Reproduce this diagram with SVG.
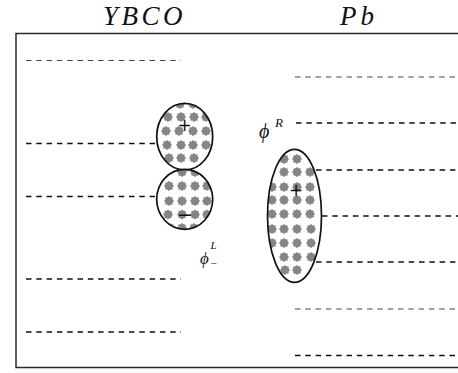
<svg xmlns="http://www.w3.org/2000/svg" xmlns:xlink="http://www.w3.org/1999/xlink" width="458" height="373" viewBox="0 0 458 373">
  <style>
    .frame { fill: none; stroke: #2a2a2a; stroke-width: 1.5; }
    .dash { fill: none; stroke: #111; stroke-width: 1.6; stroke-dasharray: 5.5 4.8; }
    .dash-light { fill: none; stroke: #444; stroke-width: 1.1; stroke-dasharray: 5.5 4.8; }
    .blob { fill: none; stroke: #111; stroke-width: 1.7; }
    .dot { fill: #858585; }
    .sign { fill: #111; text-anchor: middle; }
  </style>
  <defs>
    <!-- gray star-shaped pinning dot -->
    <polygon id="star" class="dot" points="5,0 3.7,1.5 3.6,3.6 1.5,3.7 0,5 -1.5,3.7 -3.6,3.6 -3.7,1.5 -5,0 -3.7,-1.5 -3.6,-3.6 -1.5,-3.7 0,-5 1.5,-3.7 3.6,-3.6 3.7,-1.5"/>
    <clipPath id="clipTop"><ellipse cx="184.7" cy="136.7" rx="28" ry="33.3"/></clipPath>
    <clipPath id="clipBottom"><ellipse cx="184.7" cy="199.3" rx="28" ry="30"/></clipPath>
    <clipPath id="clipRight"><ellipse cx="294.5" cy="215.8" rx="27" ry="66.5"/></clipPath>
  </defs>

  <!-- column headings -->
  <g font-family="Liberation Serif, serif" font-style="italic" fill="#111">
    <text x="103" y="25" font-size="27" letter-spacing="3.5">YBCO</text>
    <text x="340" y="25" font-size="27" letter-spacing="4">Pb</text>
  </g>

  <!-- frame: top, left, bottom -->
  <path class="frame" d="M458,33.5 H16 V367.5 H458"/>

  <g id="connectors">
    <!-- left side levels -->
    <line class="dash-light" x1="26" y1="60.5" x2="181" y2="60.5"/>
    <line class="dash" x1="26" y1="143.5" x2="157" y2="143.5"/>
    <line class="dash" x1="26" y1="196.5" x2="157" y2="196.5"/>
    <line class="dash" x1="26" y1="279" x2="181" y2="279"/>
    <line class="dash" x1="26" y1="332" x2="181" y2="332"/>
    <!-- right side levels -->
    <line class="dash-light" x1="295" y1="77" x2="458" y2="77"/>
    <line class="dash" x1="296" y1="123" x2="458" y2="123"/>
    <line class="dash" x1="316" y1="170" x2="458" y2="170"/>
    <line class="dash" x1="322" y1="216" x2="458" y2="216"/>
    <line class="dash" x1="316" y1="262" x2="458" y2="262"/>
    <line class="dash-light" x1="295" y1="309" x2="458" y2="309"/>
    <line class="dash" x1="295" y1="355.5" x2="458" y2="355.5"/>
  </g>

  <g id="vortex-top">
    <g clip-path="url(#clipTop)">
      <use xlink:href="#star" x="180" y="104"/><use xlink:href="#star" x="193" y="104"/>
      <use xlink:href="#star" x="168" y="117"/><use xlink:href="#star" x="181" y="117"/><use xlink:href="#star" x="194" y="117"/><use xlink:href="#star" x="206" y="117"/>
      <use xlink:href="#star" x="166" y="131"/><use xlink:href="#star" x="179" y="131"/><use xlink:href="#star" x="193" y="131"/><use xlink:href="#star" x="206" y="131"/>
      <use xlink:href="#star" x="167" y="145"/><use xlink:href="#star" x="181" y="145"/><use xlink:href="#star" x="193" y="145"/><use xlink:href="#star" x="206" y="145"/>
      <use xlink:href="#star" x="169" y="158"/><use xlink:href="#star" x="181" y="158"/><use xlink:href="#star" x="194" y="158"/>
    </g>
    <ellipse class="blob" cx="184.7" cy="136.7" rx="28" ry="33.3"/>
    <text class="sign" x="184.7" y="131" font-size="17" font-family="DejaVu Sans, sans-serif">+</text>
  </g>

  <g id="vortex-bottom">
    <g clip-path="url(#clipBottom)">
      <use xlink:href="#star" x="182" y="172"/><use xlink:href="#star" x="195" y="172"/>
      <use xlink:href="#star" x="169" y="186"/><use xlink:href="#star" x="182" y="186"/><use xlink:href="#star" x="195" y="186"/><use xlink:href="#star" x="207" y="186"/>
      <use xlink:href="#star" x="169" y="201"/><use xlink:href="#star" x="182" y="201"/><use xlink:href="#star" x="195" y="201"/><use xlink:href="#star" x="207" y="201"/>
      <use xlink:href="#star" x="168" y="214.5"/><use xlink:href="#star" x="182" y="214.5"/><use xlink:href="#star" x="195" y="214.5"/><use xlink:href="#star" x="207" y="214.5"/>
      <use xlink:href="#star" x="170" y="228"/><use xlink:href="#star" x="182" y="228"/><use xlink:href="#star" x="194" y="228"/>
    </g>
    <ellipse class="blob" cx="184.7" cy="199.3" rx="28" ry="30"/>
    <text class="sign" x="185" y="221" font-size="19" font-family="DejaVu Sans, sans-serif">−</text>
  </g>

  <g id="vortex-right">
    <g clip-path="url(#clipRight)">
      <use xlink:href="#star" x="284" y="159"/><use xlink:href="#star" x="297" y="159"/>
      <use xlink:href="#star" x="284" y="172"/><use xlink:href="#star" x="297" y="172"/><use xlink:href="#star" x="310" y="172"/>
      <use xlink:href="#star" x="272" y="187"/><use xlink:href="#star" x="284" y="187"/><use xlink:href="#star" x="297" y="187"/><use xlink:href="#star" x="310" y="187"/>
      <use xlink:href="#star" x="272" y="200"/><use xlink:href="#star" x="284" y="200"/><use xlink:href="#star" x="297" y="200"/><use xlink:href="#star" x="310" y="200"/>
      <use xlink:href="#star" x="272" y="214"/><use xlink:href="#star" x="284" y="214"/><use xlink:href="#star" x="297" y="214"/><use xlink:href="#star" x="310" y="214"/>
      <use xlink:href="#star" x="272" y="229"/><use xlink:href="#star" x="284" y="229"/><use xlink:href="#star" x="297" y="229"/><use xlink:href="#star" x="311" y="229"/>
      <use xlink:href="#star" x="272" y="243"/><use xlink:href="#star" x="284" y="243"/><use xlink:href="#star" x="297" y="243"/><use xlink:href="#star" x="311" y="243"/>
      <use xlink:href="#star" x="284" y="257"/><use xlink:href="#star" x="297" y="257"/><use xlink:href="#star" x="311" y="257"/>
      <use xlink:href="#star" x="285" y="270"/><use xlink:href="#star" x="297" y="270"/>
    </g>
    <ellipse class="blob" cx="294.5" cy="215.8" rx="27" ry="66.5"/>
    <text class="sign" x="296" y="196" font-size="17" font-family="DejaVu Sans, sans-serif">+</text>
  </g>

  <g id="label-phi-R" font-family="Liberation Serif, serif" font-style="italic" fill="#111">
    <text x="259" y="137.5" font-size="20">ϕ</text>
    <text x="275" y="127" font-size="13">R</text>
  </g>

  <g id="label-phi-L" font-family="Liberation Serif, serif" font-style="italic" fill="#111">
    <text x="200" y="264" font-size="17">ϕ</text>
    <text x="210.5" y="248.5" font-size="11">L</text>
    <text x="210.5" y="267" font-size="11" font-style="normal">−</text>
  </g>
</svg>
